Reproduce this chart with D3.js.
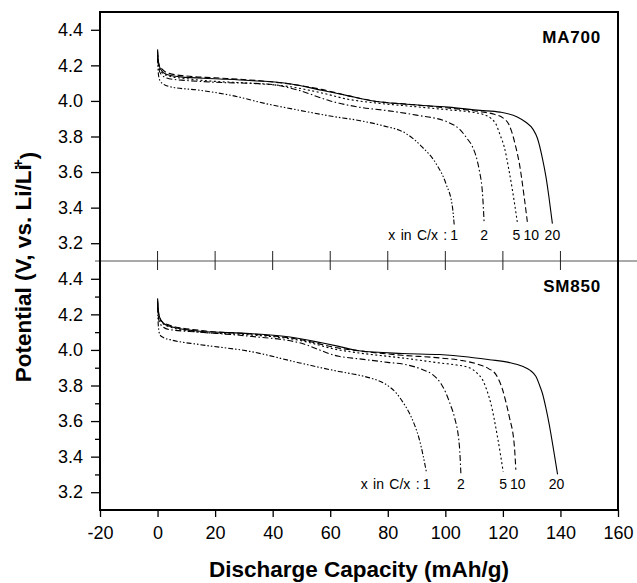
<!DOCTYPE html>
<html>
<head>
<meta charset="utf-8">
<script src="https://cdn.jsdelivr.net/npm/d3@7"></script>
<style>
  html, body { margin: 0; padding: 0; background: #fff; }
  svg { display: block; font-family: "Liberation Sans", Arial, Helvetica, sans-serif; }
</style>
</head>
<body>
<svg id="chart" width="637" height="583"></svg>
<script>
// Discharge curves, [capacity (mAh/g), potential (V)], for each C-rate (C/x)
const rates = [1, 2, 5, 10, 20];

// MA700 sample
const ma700_x20 = [[0,4.29],[0.3,4.22],[1,4.18],[3,4.15],[8,4.135],[20,4.125],[32,4.115],[46,4.097],[57,4.06],[66,4.03],[75,4.0],[88,3.98],[101,3.965],[112,3.947],[119,3.937],[125,3.91],[128,3.88],[130.5,3.84],[132,3.79],[133.7,3.68],[135,3.57],[136,3.46],[137.2,3.31]];
const ma700_x10 = [[0,4.28],[0.4,4.21],[1.5,4.18],[4,4.155],[10,4.14],[20,4.13],[32,4.118],[46,4.095],[57,4.065],[66,4.03],[75,4.0],[88,3.98],[101,3.96],[112,3.94],[117,3.925],[120,3.905],[122,3.87],[123,3.83],[124.5,3.74],[125.7,3.65],[127.4,3.46],[128.5,3.32]];
const ma700_x5 = [[0,4.26],[0.4,4.19],[1.5,4.16],[4,4.14],[10,4.125],[20,4.11],[32,4.1],[46,4.08],[57,4.045],[66,4.01],[75,3.99],[88,3.97],[101,3.95],[110,3.935],[113,3.925],[116,3.9],[117.6,3.87],[119,3.81],[120.5,3.74],[122,3.62],[123.3,3.5],[125,3.32]];
const ma700_x2 = [[0,4.25],[0.4,4.18],[1.5,4.145],[4,4.125],[10,4.115],[20,4.105],[38,4.095],[49,4.06],[60,4.0],[70,3.965],[80,3.945],[90,3.92],[101,3.88],[105,3.84],[107.5,3.79],[109.5,3.74],[111,3.67],[111.8,3.61],[113,3.46],[113.5,3.31]];
const ma700_x1 = [[0,4.24],[0.3,4.15],[0.8,4.115],[2,4.095],[4.3,4.08],[14.7,4.06],[26,4.03],[37.8,3.984],[49.4,3.947],[60,3.915],[70,3.89],[78,3.862],[86.4,3.816],[92,3.74],[96.8,3.647],[100.2,3.535],[102.5,3.4],[103.1,3.3]];

// SM850 sample
const sm850_x20 = [[0,4.29],[0.3,4.22],[0.8,4.18],[2,4.15],[4.3,4.133],[14.7,4.105],[32,4.092],[46,4.073],[57,4.04],[63,4.02],[70,3.995],[85,3.98],[98,3.974],[108,3.96],[115.3,3.945],[122,3.93],[126.8,3.908],[129.5,3.885],[131.5,3.85],[133,3.79],[133.7,3.758],[135,3.67],[136,3.59],[137.8,3.42],[139,3.3]];
const sm850_x10 = [[0,4.28],[0.4,4.2],[1.5,4.16],[4,4.14],[14.7,4.11],[32,4.09],[49,4.06],[63,4.01],[70,3.995],[85,3.97],[98,3.955],[106,3.94],[111.8,3.917],[115,3.895],[117.6,3.861],[119.9,3.776],[121,3.71],[122.2,3.626],[124,3.457],[124.5,3.326]];
const sm850_x5 = [[0,4.27],[0.4,4.19],[1.5,4.155],[4,4.13],[14.7,4.1],[32,4.085],[49,4.055],[63,4.0],[70,3.983],[85,3.955],[98,3.927],[104,3.915],[108.3,3.9],[111,3.87],[112.9,3.833],[114.5,3.77],[115.8,3.7],[118.1,3.513],[120.1,3.316]];
const sm850_x2 = [[0,4.26],[0.4,4.17],[1.5,4.135],[4,4.115],[14.7,4.1],[32,4.077],[49.4,4.04],[63,3.964],[70,3.95],[80,3.93],[86.4,3.917],[92,3.89],[95.6,3.861],[98.5,3.81],[100.2,3.758],[101.8,3.69],[103.1,3.626],[104.9,3.457],[105.4,3.307]];
const sm850_x1 = [[0,4.24],[0.3,4.13],[0.8,4.086],[2,4.07],[4.3,4.058],[14.7,4.03],[32,3.992],[49.4,3.927],[63,3.879],[70,3.858],[74.8,3.838],[79,3.81],[82.9,3.758],[85.5,3.7],[87.5,3.645],[89.5,3.57],[91,3.495],[93.5,3.307]];

const panelNames = ["MA700", "SM850"];
const xTicks = [-20, 0, 20, 40, 60, 80, 100, 120, 140, 160];
const yTicks = [3.2, 3.4, 3.6, 3.8, 4.0, 4.2, 4.4];
const yMinorTicks = [3.3, 3.5, 3.7, 3.9, 4.1, 4.3];

const panels = [
  { name: panelNames[0], series: { 1: ma700_x1, 2: ma700_x2, 5: ma700_x5, 10: ma700_x10, 20: ma700_x20 } },
  { name: panelNames[1], series: { 1: sm850_x1, 2: sm850_x2, 5: sm850_x5, 10: sm850_x10, 20: sm850_x20 } }
];

// line dash pattern per rate
const dashes = { 1: "5,2,1.5,2,1.5,2", 2: "6,2.5,1.5,2.5", 5: "2,2.5", 10: "6,3", 20: null };
// small horizontal nudges (px) so neighbouring rate labels do not collide
const labelNudge = [{ 5: -1, 10: 4 }, { 10: 2, 20: -1 }];

const svg = d3.select("#chart");
const box = { left: 100, right: 618, top: 12, mid: 261, bottom: 510 };

const x = d3.scaleLinear().domain([-20, 160]).range([box.left, box.right]);
const yScales = [
  d3.scaleLinear().domain([3.1, 4.5]).range([box.mid, box.top]),
  d3.scaleLinear().domain([3.1, 4.5]).range([box.bottom, box.mid])
];

// curves
panels.forEach((p, i) => {
  const y = yScales[i];
  const line = d3.line().x(d => x(d[0])).y(d => y(d[1])).curve(d3.curveMonotoneX);
  const g = svg.append("g");
  rates.forEach(r => {
    g.append("path")
      .datum(p.series[r])
      .attr("d", line)
      .attr("fill", "none")
      .attr("stroke", "#000")
      .attr("stroke-width", 1.1)
      .attr("stroke-dasharray", dashes[r]);
  });

  // rate labels under each curve end
  const labelY = y(3.1) - 21;
  rates.forEach(r => {
    const s = p.series[r];
    g.append("text")
      .attr("x", x(s[s.length - 1][0]) + (labelNudge[i][r] || 0))
      .attr("y", labelY)
      .attr("text-anchor", "middle")
      .attr("font-size", 14)
      .text(r);
  });
  const s1 = p.series[1];
  g.append("text")
    .attr("x", x(s1[s1.length - 1][0]) - 7)
    .attr("y", labelY)
    .attr("text-anchor", "end")
    .attr("font-size", 14)
    .attr("word-spacing", 1.5)
    .text("x in C/x :");

  // sample name
  g.append("text")
    .attr("x", 601)
    .attr("y", y(4.5) + 31)
    .attr("text-anchor", "end")
    .attr("font-size", 17)
    .attr("font-weight", "bold")
    .attr("letter-spacing", 0.8)
    .text(p.name);

  // left axis
  const ax = svg.append("g").attr("transform", `translate(${box.left},0)`)
    .call(d3.axisLeft(y).tickValues(yTicks).tickSize(9).tickPadding(8).tickFormat(d3.format(".1f")));
  ax.select(".domain").remove();
  ax.selectAll("text").attr("font-size", 18).attr("font-family", null).attr("fill", "#000");
  ax.selectAll("line").attr("stroke", "#000").attr("stroke-width", 1.3);
  if (i === 1) {
    const mx = svg.append("g").attr("transform", `translate(${box.left},0)`)
      .call(d3.axisLeft(y).tickValues(yMinorTicks).tickSize(5).tickFormat(""));
    mx.select(".domain").remove();
    mx.selectAll("line").attr("stroke", "#000").attr("stroke-width", 1.3);
  }
});

// separator between the panels with crossing ticks
svg.append("line")
  .attr("x1", box.left - 5).attr("x2", 637)
  .attr("y1", box.mid).attr("y2", box.mid)
  .attr("stroke", "#555").attr("stroke-width", 1);
svg.append("g").selectAll("line")
  .data(xTicks.filter(v => v >= 0 && v < 160))
  .join("line")
  .attr("x1", d => x(d)).attr("x2", d => x(d))
  .attr("y1", box.mid - 10).attr("y2", box.mid + 9)
  .attr("stroke", "#222").attr("stroke-width", 1);

// bottom axis
const bx = svg.append("g").attr("transform", `translate(0,${box.bottom})`)
  .call(d3.axisBottom(x).tickValues(xTicks).tickSize(7).tickPadding(9).tickFormat(d => String(d)));
bx.select(".domain").remove();
bx.selectAll("text").attr("font-size", 18).attr("font-family", null).attr("fill", "#000");
bx.selectAll("line").attr("stroke", "#000").attr("stroke-width", 1.3);

// frame
svg.append("rect")
  .attr("x", box.left).attr("y", box.top)
  .attr("width", box.right - box.left).attr("height", box.bottom - box.top)
  .attr("fill", "none").attr("stroke", "#000").attr("stroke-width", 2);

// axis titles
svg.append("text")
  .attr("x", (box.left + box.right) / 2)
  .attr("y", 577)
  .attr("text-anchor", "middle")
  .attr("font-size", 22.5)
  .attr("font-weight", "bold")
  .text("Discharge Capacity (mAh/g)");

const yt = svg.append("text")
  .attr("transform", "translate(31,267) rotate(-90)")
  .attr("text-anchor", "middle")
  .attr("font-size", 22.5)
  .attr("font-weight", "bold");
yt.append("tspan").text("Potential (V, vs. Li/Li");
yt.append("tspan").attr("dy", "-0.55em").attr("dx", "-3").attr("font-size", 14).text("+");
yt.append("tspan").attr("dy", "0.55em").text(")");
</script>
</body>
</html>
